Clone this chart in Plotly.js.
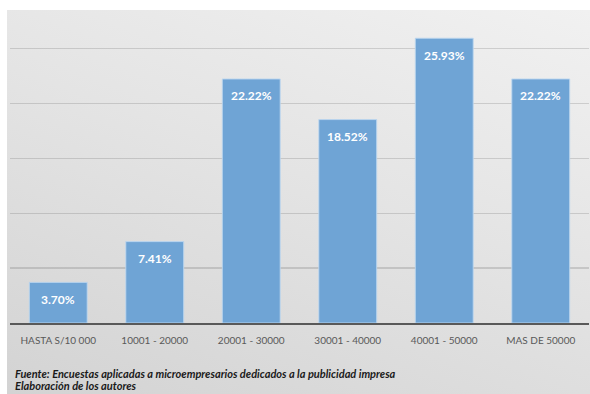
<!DOCTYPE html>
<html>
<head>
<meta charset="utf-8">
<script src="https://cdn.plot.ly/plotly-3.0.1.min.js"></script>
<style>
html, body { margin:0; padding:0; background:#ffffff; }
#wrap { position:relative; width:590px; height:394px; overflow:hidden; }
#bg { position:absolute; left:7px; top:10px; width:583px; height:384px;
      background: linear-gradient(200deg, #f1f1f1 0%, #e4e4e4 45%, #d3d3d3 100%); }
#chart { position:absolute; left:0; top:0; width:590px; height:394px; }
</style>
</head>
<body>
<div id="wrap"><div id="bg"></div><div id="chart"></div></div>
<script>
const categories = ["HASTA S/10 000", "10001 - 20000", "20001 - 30000", "30001 - 40000", "40001 - 50000", "MAS DE 50000"];
const values = [3.70, 7.41, 22.22, 18.52, 25.93, 22.22];
const valueLabels = ["3.70%", "7.41%", "22.22%", "18.52%", "25.93%", "22.22%"];
const footnotes = ["Fuente: Encuestas aplicadas a microempresarios dedicados a la publicidad impresa", "Elaboración de los autores"];

const FONT = "Lato, 'Open Sans', sans-serif";

const trace = {
  type: "bar",
  x: categories,
  y: values,
  marker: { color: "rgb(111,164,213)", line: { color: "rgba(190,215,240,0.9)", width: 1 } },
  hoverinfo: "none"
};

const annotations = categories.map((c, i) => ({
  x: c, y: values[i], xref: "x", yref: "y",
  text: "<b>" + valueLabels[i] + "</b>",
  showarrow: false, yshift: -17,
  font: { family: FONT, size: 12, color: "#ffffff" }
}));
annotations.push({
  xref: "paper", yref: "paper", x: 0.005, y: -0.16, xanchor: "left", yanchor: "middle",
  text: "<b><i>" + footnotes[0] + "</i></b>", showarrow: false,
  font: { family: FONT, size: 11, color: "#1a1a1a" }
});
annotations.push({
  xref: "paper", yref: "paper", x: 0.005, y: -0.2, xanchor: "left", yanchor: "middle",
  text: "<b><i>" + footnotes[1] + "</i></b>", showarrow: false,
  font: { family: FONT, size: 11, color: "#1a1a1a" }
});

const layout = {
  width: 590, height: 394,
  margin: { l: 10, r: 1, t: 10, b: 71, pad: 0 },
  paper_bgcolor: "rgba(0,0,0,0)",
  plot_bgcolor: "rgba(0,0,0,0)",
  showlegend: false,
  bargap: 0.4,
  xaxis: {
    type: "category",
    showgrid: false, zeroline: false,
    showline: true, linecolor: "#595959", linewidth: 2,
    ticks: "", ticklabelstandoff: 7,
    tickfont: { family: FONT, size: 10, color: "#595959" },
    fixedrange: true
  },
  yaxis: {
    range: [0, 28.5],
    tickvals: [5, 10, 15, 20, 25],
    showticklabels: false,
    showgrid: true, gridcolor: "rgba(90,90,90,0.22)", gridwidth: 1.3,
    zeroline: false, showline: false,
    fixedrange: true
  },
  annotations: annotations
};

Plotly.newPlot("chart", [trace], layout, { displayModeBar: false, staticPlot: true });
</script>
</body>
</html>
